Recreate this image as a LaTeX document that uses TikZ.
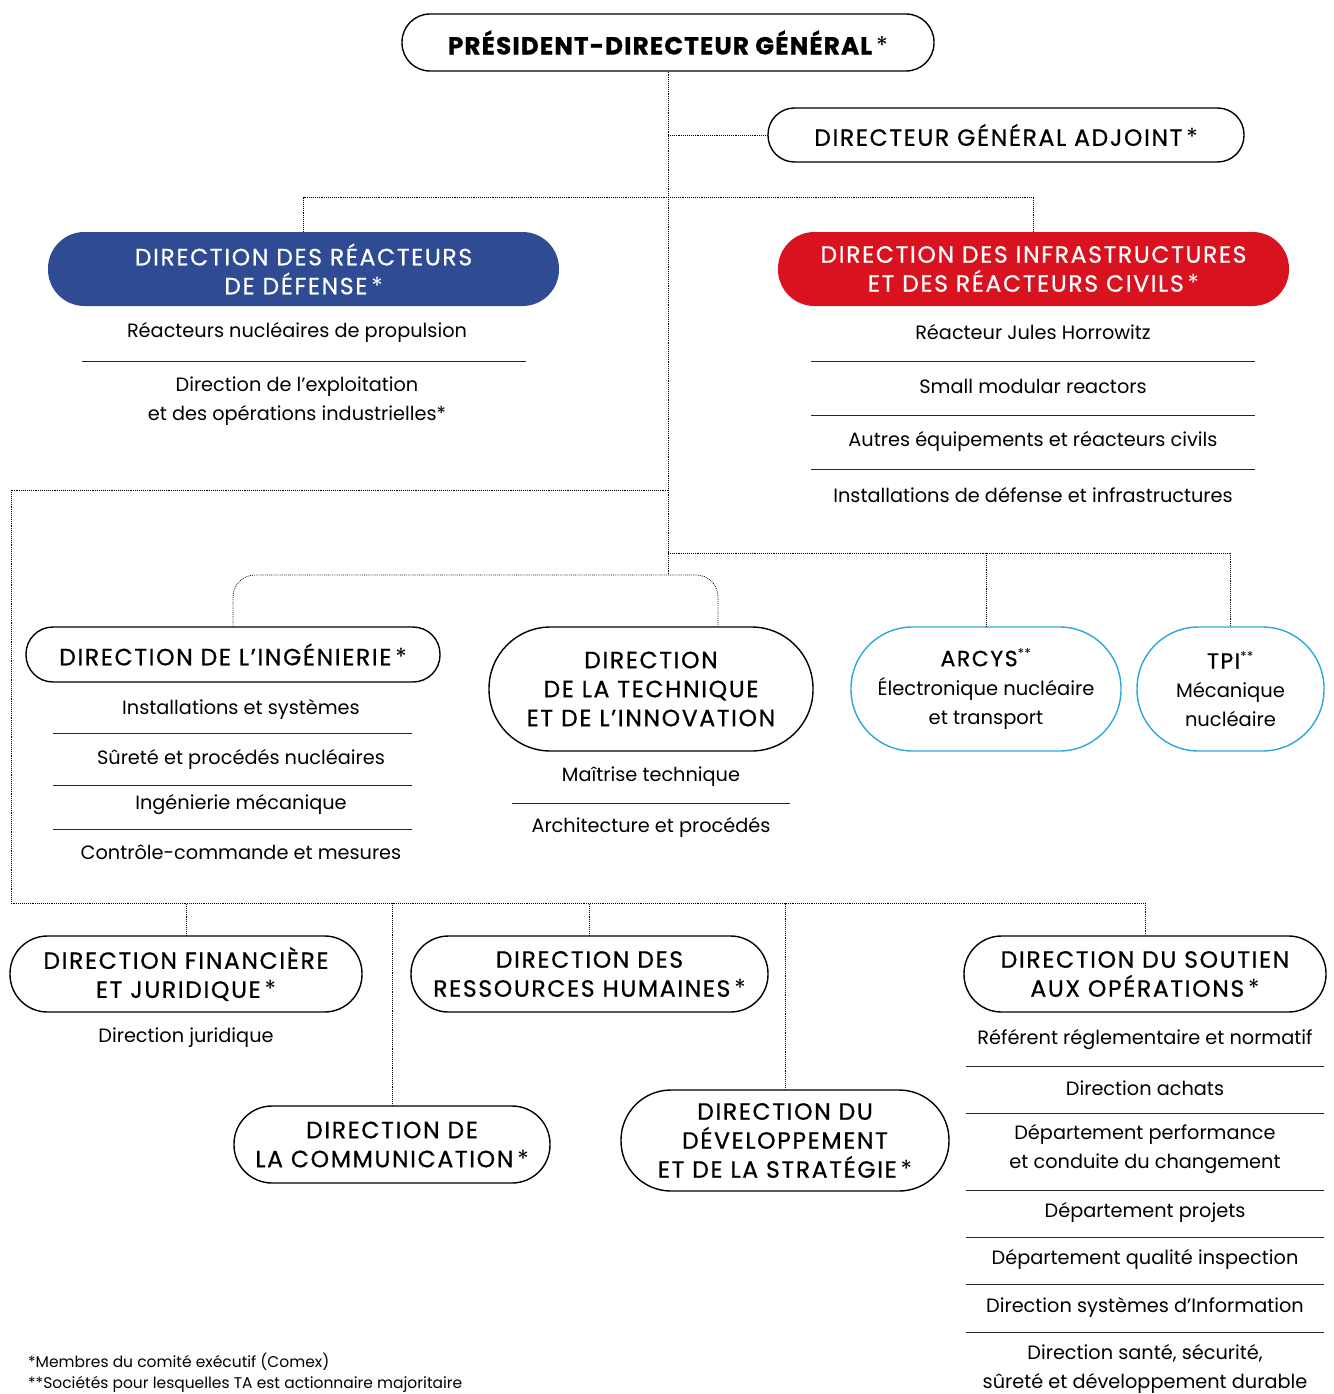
\documentclass[tikz,border=0pt]{standalone}
\usepackage{fontspec}
\setmainfont{Poppins}
\newfontfamily\capsf{Poppins}[LetterSpace=7, FakeBold=0.7]
\newfontfamily\heavyf{Poppins}[LetterSpace=5, BoldFeatures={FakeBold=1.2}]
\newcommand\starm{{\normalfont\mdseries\,*}}
\definecolor{tablue}{HTML}{2E4B94}
\definecolor{tared}{HTML}{D9121F}
\definecolor{tacyan}{HTML}{2AA7E1}
\begin{document}
\begin{tikzpicture}[x=1pt,y=-1pt,
  box/.style={draw=black, line width=1.4pt, rectangle, inner sep=0pt, align=center,
    font=\capsf\fontsize{23.5}{29}\selectfont},
  filled/.style={box, draw=none, fill=#1, text=white},
  subbox/.style={box, draw=tacyan, font=\fontsize{19.5}{29}\selectfont},
  item/.style={align=center, inner sep=0pt, font=\fontsize{19.3}{29}\selectfont},
  sep/.style={line width=0.9pt, black!85},
  link/.style={line width=0.8pt, dash pattern=on 0.8pt off 1.1pt},
  note/.style={anchor=west, inner sep=0pt, font=\fontsize{15.5}{21}\selectfont}]
\useasboundingbox (0,0) rectangle (1333,1394);

% boxes
\node[box, minimum width=532pt, minimum height=57pt, rounded corners=28pt,
  font=\heavyf\bfseries\fontsize{24.5}{29}\selectfont] (pdg) at (668,42.5)
  {PRÉSIDENT-DIRECTEUR GÉNÉRAL\starm};
\node[box, minimum width=476pt, minimum height=54pt, rounded corners=26.5pt] (dga) at (1006,135)
  {DIRECTEUR GÉNÉRAL ADJOINT\starm};
\node[filled=tablue, minimum width=511pt, minimum height=74pt, rounded corners=36.5pt] (dd) at (303.5,269)
  {DIRECTION DES RÉACTEURS\\DE DÉFENSE\starm};
\node[filled=tared, minimum width=511pt, minimum height=74pt, rounded corners=36.5pt] (dic) at (1033.5,269)
  {DIRECTION DES INFRASTRUCTURES\\ET DES RÉACTEURS CIVILS\starm};
\node[box, minimum width=414pt, minimum height=55pt, rounded corners=27pt] (ing) at (233,654.5)
  {DIRECTION DE L’INGÉNIERIE\starm};
\node[box, minimum width=324pt, minimum height=124pt, rounded corners=61.5pt] (tech) at (651,689)
  {DIRECTION\\DE LA TECHNIQUE\\ET DE L’INNOVATION};
\node[subbox, minimum width=270pt, minimum height=124pt, rounded corners=61.5pt] (arcys) at (986,689)
  {{\capsf\fontsize{22}{29}\selectfont ARCYS}\textsuperscript{**}\\Électronique nucléaire\\et transport};
\node[subbox, minimum width=187pt, minimum height=124pt, rounded corners=61.5pt] (tpi) at (1230.5,689)
  {{\capsf\fontsize{22}{29}\selectfont TPI}\textsuperscript{**}\\Mécanique\\nucléaire};
\node[box, minimum width=352pt, minimum height=76pt, rounded corners=37.5pt] (fin) at (186,974)
  {DIRECTION FINANCIÈRE\\ET JURIDIQUE\starm};
\node[box, minimum width=357pt, minimum height=76pt, rounded corners=37.5pt] (rh) at (589.5,974)
  {DIRECTION DES\\RESSOURCES HUMAINES\starm};
\node[box, minimum width=362pt, minimum height=76pt, rounded corners=37.5pt] (sout) at (1145,974)
  {DIRECTION DU SOUTIEN\\AUX OPÉRATIONS\starm};
\node[box, minimum width=316pt, minimum height=77pt, rounded corners=38pt] (comm) at (392,1144.5)
  {DIRECTION DE\\LA COMMUNICATION\starm};
\node[box, minimum width=328pt, minimum height=101pt, rounded corners=50pt] (dev) at (785,1140.5)
  {DIRECTION DU\\DÉVELOPPEMENT\\ET DE LA STRATÉGIE\starm};

% connectors
\coordinate (spineEnd) at (pdg.south |- 0,575);
\coordinate (busA) at (pdg.south |- 0,197);
\coordinate (busL) at (pdg.south |- 0,490);
\coordinate (busR) at (pdg.south |- 0,553);
\coordinate (busB) at (11,903);
\draw[link] (pdg.south) -- (spineEnd);
\draw[link] (pdg.south |- dga.west) -- (dga.west);
\draw[link] (dd.north) |- (busA) -| (dic.north);
\draw[link] (busL) -| (busB) -| (sout.north);
\draw[link] (fin.north) -- (fin.north |- busB);
\draw[link] (rh.north) -- (rh.north |- busB);
\draw[link] (comm.north) -- (comm.north |- busB);
\draw[link] (dev.north) -- (dev.north |- busB);
\draw[link] (busR) -| (tpi.north);
\draw[link] (arcys.north) -- (arcys.north |- busR);
\draw[link, rounded corners=22pt] (ing.north) |- (spineEnd) -| ([xshift=67pt]tech.north);

% items under defense
\node[item] (d1) at (297,332) {Réacteurs nucléaires de propulsion};
\node[item] (d2) at (297,401) {Direction de l’exploitation\\et des opérations industrielles*};
\draw[sep] (82,361) -- (526,361);
% items under civils
\node[item] (c1) at (1033,332) {Réacteur Jules Horrowitz};
\node[item] (c2) at (1033,386) {Small modular reactors};
\node[item] (c3) at (1033,441) {Autres équipements et réacteurs civils};
\node[item] (c4) at (1033,495) {Installations de défense et infrastructures};
\draw[sep] (811,361) -- (1255,361);
\draw[sep] (811,415) -- (1255,415);
\draw[sep] (811,469) -- (1255,469);
% ingenierie
\node[item] (i1) at (241,709) {Installations et systèmes};
\node[item] (i2) at (241,759) {Sûreté et procédés nucléaires};
\node[item] (i3) at (241,805) {Ingénierie mécanique};
\node[item] (i4) at (241,852) {Contrôle-commande et mesures};
\draw[sep] (53,733) -- (412,733);
\draw[sep] (53,785) -- (412,785);
\draw[sep] (53,829) -- (412,829);
% technique
\node[item] (t1) at (651,777) {Maîtrise technique};
\node[item] (t2) at (651,827) {Architecture et procédés};
\draw[sep] (512,803) -- (790,803);
% finance
\node[item] (f1) at (186,1038) {Direction juridique};
% soutien
\node[item] (s1) at (1145,1040) {Référent réglementaire et normatif};
\node[item] (s2) at (1145,1088) {Direction achats};
\node[item] (s3) at (1145,1149.5) {Département performance\\et conduite du changement};
\node[item] (s4) at (1145,1212) {Département projets};
\node[item] (s5) at (1145,1259) {Département qualité inspection};
\node[item] (s6) at (1145,1307) {Direction systèmes d’Information};
\node[item] (s7) at (1145,1368.5) {Direction santé, sécurité,\\sûreté et développement durable};
\draw[sep] (966,1066) -- (1324,1066);
\draw[sep] (966,1113) -- (1324,1113);
\draw[sep] (966,1190) -- (1324,1190);
\draw[sep] (966,1237) -- (1324,1237);
\draw[sep] (966,1284) -- (1324,1284);
\draw[sep] (966,1332) -- (1324,1332);
% notes
\node[note] (n1) at (28,1362) {*Membres du comité exécutif (Comex)};
\node[note] (n2) at (28,1384) {**Sociétés pour lesquelles TA est actionnaire majoritaire};
\end{tikzpicture}
\end{document}
